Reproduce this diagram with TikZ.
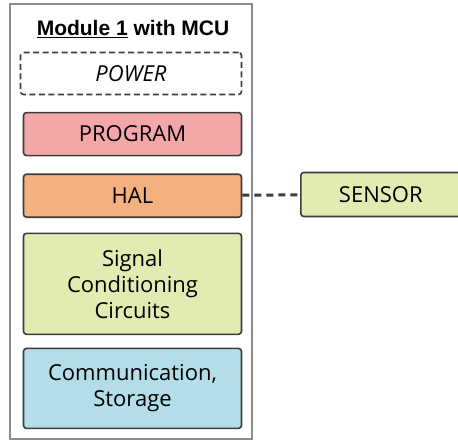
\documentclass[tikz,border=0pt]{standalone}
\usepackage{fontspec}
\setmainfont{Open Sans}
\newfontfamily\titlefont{Liberation Sans}
\usetikzlibrary{positioning}
\definecolor{progred}{HTML}{F4A7A9}
\definecolor{halorange}{HTML}{F5B07F}
\definecolor{condgreen}{HTML}{E3EBB3}
\definecolor{commblue}{HTML}{B3DDE8}
\definecolor{edgegray}{HTML}{3C3C3C}
\definecolor{framegray}{HTML}{8C8C8C}
\tikzset{
  blockbox/.style={
    rectangle, rounded corners=3pt, draw=edgegray, fill=#1, line width=1.6pt,
    minimum width=218pt, minimum height=43pt,
    font=\fontsize{22}{26}\selectfont, align=center,
    inner sep=2pt
  },
  blockbox/.default=white,
  powerbox/.style={
    rectangle, rounded corners=3pt, draw=edgegray, fill=white, line width=1.6pt,
    dash pattern=on 6pt off 3.5pt,
    minimum width=221pt, minimum height=42pt,
    font=\fontsize{22}{26}\selectfont\itshape, align=center
  },
  linkline/.style={
    draw=edgegray, line width=3pt, dash pattern=on 7pt off 5pt
  },
}

\begin{document}
\begin{tikzpicture}[x=1pt, y=-1pt, node distance=14.5pt]
  \useasboundingbox (0,0) rectangle (458,440);
  % module frame
  \draw[framegray, line width=1.6pt] (10,4) rectangle (252,439);
  \node[font=\titlefont\fontsize{21}{24}\selectfont\bfseries] (title)
    at (133,29) {\underline{Module 1} with MCU};

  \node[powerbox] (power) at (131,73.5) {POWER};
  \node[blockbox=progred, below=16.5pt of power, xshift=1.5pt] (prog) {PROGRAM};
  \node[blockbox=halorange, below=17pt of prog] (hal) {HAL};
  \node[blockbox=condgreen, minimum height=101pt, below=of hal] (cond)
    {Signal\\Conditioning\\Circuits};
  \node[blockbox=commblue, minimum height=80pt, below=12.5pt of cond] (comm)
    {Communication,\\Storage};

  % external part
  \node[blockbox=condgreen, minimum width=160pt, minimum height=44pt,
        anchor=west] (sensor) at (300,194.5) {SENSOR};

  \draw[linkline] (hal) -- (sensor);
\end{tikzpicture}
\end{document}
